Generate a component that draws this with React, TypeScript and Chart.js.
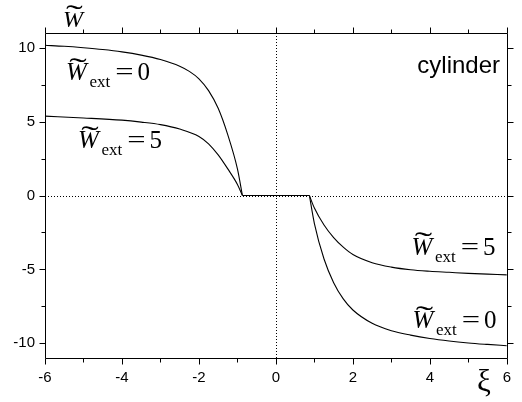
import React, { useEffect, useRef } from "react";
import { Chart, registerables } from "chart.js";
Chart.register(...registerables);

// Axis ticks
const xMajor = [-6, -4, -2, 0, 2, 4, 6];
const xMinor = [-5, -3, -1, 1, 3, 5];
const yMajor = [-10, -5, 0, 5, 10];
const yMinor = [-7.5, -2.5, 2.5, 7.5];

// W_ext = 0 curve
const w0LeftX = [-6, -5.5, -5, -4.5, -4, -3.5, -3, -2.5, -2.25, -2, -1.75, -1.5, -1.25, -1.0, -0.87];
const w0LeftY = [10.17, 10.1, 10.0, 9.88, 9.72, 9.5, 9.2, 8.75, 8.4, 7.9, 7.1, 5.9, 4.1, 1.8, 0];
const w0RightX = [0.87, 1.0, 1.25, 1.5, 1.75, 2, 2.5, 3, 3.5, 4, 4.5, 5, 5.5, 6];
const w0RightY = [0, -1.9, -4.3, -5.9, -7.0, -7.75, -8.65, -9.15, -9.45, -9.68, -9.85, -9.98, -10.08, -10.17];

// W_ext = 5 curve
const w5LeftX = [-6, -5, -4, -3.5, -3, -2.5, -2, -1.75, -1.5, -1.25, -1.0, -0.87];
const w5LeftY = [5.37, 5.25, 5.1, 4.97, 4.8, 4.5, 4.0, 3.5, 2.75, 1.8, 0.75, 0];
const w5RightX = [0.87, 1.0, 1.25, 1.5, 1.75, 2, 2.5, 3, 3.5, 4, 4.5, 5, 5.5, 6];
const w5RightY = [0, -0.85, -2.0, -2.85, -3.5, -4.0, -4.55, -4.85, -5.03, -5.13, -5.2, -5.27, -5.32, -5.37];

// shared flat segment
const flatX = [-0.87, 0.87];
const flatY = [0, 0];

const pts = (xs: number[], ys: number[]) => xs.map((x, i) => ({ x, y: ys[i] }));

const SERIF = '"Liberation Serif", "Times New Roman", serif';

function drawTildeW(ctx: CanvasRenderingContext2D, x: number, base: number, size: number) {
  ctx.font = `italic ${size}px ${SERIF}`;
  ctx.textAlign = "left";
  ctx.textBaseline = "alphabetic";
  ctx.fillText("W", x, base);
  const ww = ctx.measureText("W").width;
  ctx.save();
  ctx.font = `${size}px ${SERIF}`;
  ctx.translate(x + ww / 2 + size * 0.06, base - size * 0.13);
  ctx.scale(2.1, 1.1);
  ctx.textAlign = "center";
  ctx.fillText("\u02DC", 0, 0);
  ctx.restore();
  return ww;
}

function drawWext(ctx: CanvasRenderingContext2D, x: number, base: number, val: string) {
  const size = 25;
  drawTildeW(ctx, x, base, size);
  ctx.font = `17px ${SERIF}`;
  ctx.textAlign = "left";
  ctx.fillText("ext", x + 23.5, base + 7);
  ctx.save();
  ctx.font = `${size}px ${SERIF}`;
  ctx.translate(x + 58.5, base);
  ctx.scale(1.3, 1);
  ctx.textAlign = "center";
  ctx.fillText("=", 0, 0);
  ctx.restore();
  ctx.font = `${size}px ${SERIF}`;
  ctx.textAlign = "left";
  ctx.fillText(val, x + 71.5, base);
}

const decor = {
  id: "decor",
  beforeDatasetsDraw(chart: any) {
    const { ctx, chartArea: a, scales } = chart;
    const x0 = Math.round(scales.x.getPixelForValue(0)) + 0.5;
    const y0 = Math.round(scales.y.getPixelForValue(0)) + 0.5;
    ctx.save();
    ctx.strokeStyle = "#000";
    ctx.lineWidth = 1;
    ctx.setLineDash([1, 2]);
    ctx.beginPath();
    ctx.moveTo(x0, a.top);
    ctx.lineTo(x0, a.bottom);
    ctx.moveTo(a.left, y0);
    ctx.lineTo(a.right, y0);
    ctx.stroke();
    ctx.restore();
  },
  afterDraw(chart: any) {
    const { ctx, chartArea: a, scales } = chart;
    const L = Math.round(a.left) + 0.5;
    const R = Math.round(a.right) + 0.5;
    const T = Math.round(a.top) + 0.5;
    const B = Math.round(a.bottom) + 0.5;
    ctx.save();
    ctx.strokeStyle = "#000";
    ctx.lineWidth = 1;
    ctx.beginPath();
    ctx.rect(L, T, R - L, B - T);
    const xt = (v: number, len: number) => {
      const p = Math.round(scales.x.getPixelForValue(v)) + 0.5;
      ctx.moveTo(p, B);
      ctx.lineTo(p, B + len);
      ctx.moveTo(p, T);
      ctx.lineTo(p, T - len);
    };
    const yt = (v: number, len: number) => {
      const p = Math.round(scales.y.getPixelForValue(v)) + 0.5;
      ctx.moveTo(L, p);
      ctx.lineTo(L - len, p);
      ctx.moveTo(R, p);
      ctx.lineTo(R + len, p);
    };
    xMajor.forEach((v) => xt(v, 6));
    xMinor.forEach((v) => xt(v, 4));
    yMajor.forEach((v) => yt(v, 6));
    yMinor.forEach((v) => yt(v, 4));
    ctx.stroke();

    ctx.fillStyle = "#000";
    // axis titles
    drawTildeW(ctx, 63, 27, 24);
    ctx.font = `31px ${SERIF}`;
    ctx.textAlign = "center";
    ctx.textBaseline = "alphabetic";
    ctx.fillText("\u03BE", 484, 391);

    // cylinder label
    ctx.font = `24px "Liberation Sans", Arial, sans-serif`;
    ctx.textAlign = "right";
    ctx.fillText("cylinder", 500, 73);

    // curve annotations
    drawWext(ctx, 66, 80, "0");
    drawWext(ctx, 78, 148, "5");
    drawWext(ctx, 411.5, 254.5, "5");
    drawWext(ctx, 412.5, 328, "0");
    ctx.restore();
  },
};

export default function App() {
  const ref = useRef<HTMLCanvasElement>(null);
  useEffect(() => {
    if (!ref.current) return;
    const line = (data: any) => ({
      data,
      borderColor: "#000",
      borderWidth: 1.1,
      pointRadius: 0,
      fill: false,
      cubicInterpolationMode: "monotone" as const,
    });
    const chart = new Chart(ref.current, {
      type: "line",
      data: {
        datasets: [
          line(pts(w0LeftX, w0LeftY)),
          line(pts(w0RightX, w0RightY)),
          line(pts(w5LeftX, w5LeftY)),
          line(pts(w5RightX, w5RightY)),
          line(pts(flatX, flatY)),
        ],
      },
      options: {
        animation: false,
        responsive: true,
        maintainAspectRatio: false,
        layout: { padding: { top: 33, right: 12, left: 0, bottom: 0 } },
        plugins: { legend: { display: false }, tooltip: { enabled: false } },
        scales: {
          x: {
            type: "linear",
            min: -6,
            max: 6,
            grid: { display: false, drawTicks: false },
            border: { display: false },
            afterBuildTicks: (s: any) => {
              s.ticks = xMajor.map((value) => ({ value }));
            },
            afterFit: (s: any) => {
              s.height = 44;
            },
            ticks: {
              color: "#000",
              padding: 11,
              maxRotation: 0,
              autoSkip: false,
              font: { family: '"Liberation Sans", Arial, sans-serif', size: 15 },
              callback: (v: any) => String(v),
            },
          },
          y: {
            type: "linear",
            min: -11,
            max: 11,
            grid: { display: false, drawTicks: false },
            border: { display: false },
            afterBuildTicks: (s: any) => {
              s.ticks = yMajor.map((value) => ({ value }));
            },
            afterFit: (s: any) => {
              s.width = 45;
            },
            ticks: {
              color: "#000",
              padding: 10,
              autoSkip: false,
              font: { family: '"Liberation Sans", Arial, sans-serif', size: 15 },
              callback: (v: any) => String(v),
            },
          },
        },
      },
      plugins: [decor],
    });
    return () => chart.destroy();
  }, []);
  return (
    <div style={{ position: "absolute", left: 0, top: 0, width: 522, height: 402, background: "#fff" }}>
      <canvas ref={ref} />
    </div>
  );
}
